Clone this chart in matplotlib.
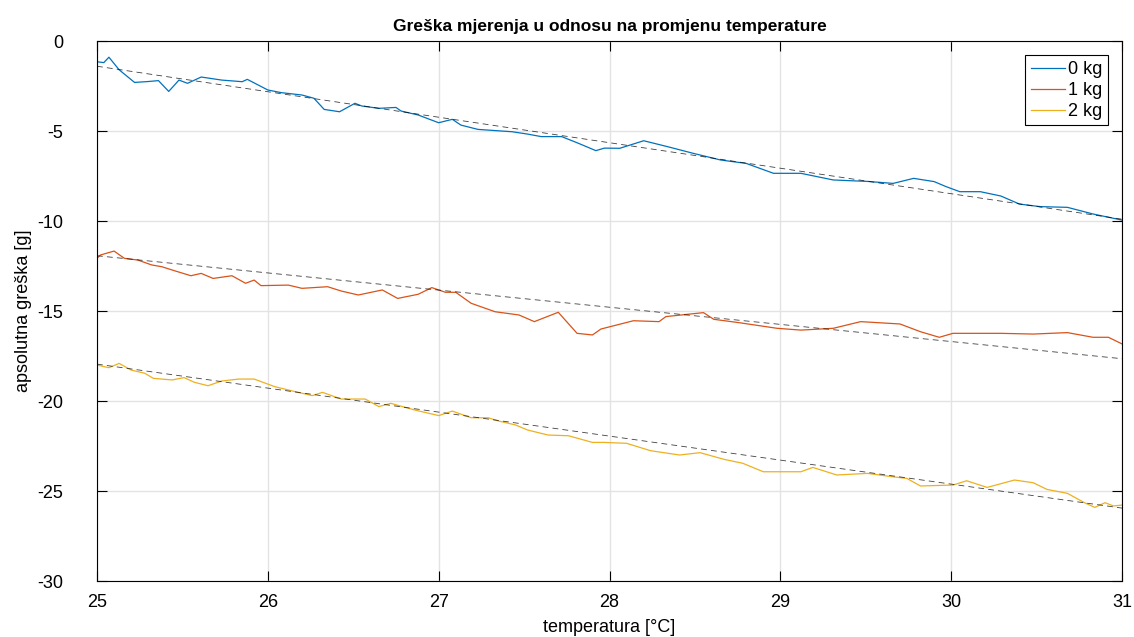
import numpy as np
import matplotlib
matplotlib.use("Agg")
import matplotlib.pyplot as plt

plt.rcParams['font.family'] = ['Liberation Sans', 'DejaVu Sans']
plt.rcParams['axes.unicode_minus'] = False

# ---- data (temperature [°C], error [g]) ----
t0 = [25.0, 25.04, 25.07, 25.1, 25.13, 25.22, 25.3, 25.36, 25.42, 25.48, 25.53,
      25.61, 25.73, 25.85, 25.88, 26.0, 26.08, 26.2, 26.27, 26.33, 26.42, 26.51,
      26.55, 26.65, 26.75, 26.78, 26.88, 27.0, 27.08, 27.13, 27.23, 27.43, 27.52,
      27.6, 27.72, 27.82, 27.92, 27.97, 28.06, 28.2, 28.34, 28.49, 28.65, 28.8,
      28.96, 29.12, 29.31, 29.51, 29.66, 29.78, 29.9, 29.97, 30.05, 30.17, 30.29,
      30.4, 30.52, 30.68, 30.83, 31.0]
e0 = [-1.15, -1.2, -0.9, -1.25, -1.6, -2.3, -2.25, -2.2, -2.8, -2.17, -2.35,
      -2.0, -2.17, -2.26, -2.13, -2.72, -2.87, -3.0, -3.18, -3.8, -3.93, -3.46,
      -3.61, -3.74, -3.69, -3.89, -4.11, -4.54, -4.35, -4.67, -4.91, -5.04, -5.17,
      -5.31, -5.31, -5.69, -6.09, -5.95, -5.96, -5.54, -5.87, -6.24, -6.61, -6.8,
      -7.35, -7.35, -7.72, -7.8, -7.91, -7.63, -7.81, -8.09, -8.37, -8.37, -8.61,
      -9.06, -9.2, -9.24, -9.61, -9.95]

t1 = [25.0, 25.02, 25.1, 25.16, 25.24, 25.32, 25.38, 25.46, 25.55, 25.61, 25.68,
      25.79, 25.87, 25.92, 25.96, 26.12, 26.2, 26.35, 26.43, 26.53, 26.67, 26.76,
      26.88, 26.96, 27.04, 27.1, 27.19, 27.33, 27.47, 27.56, 27.7, 27.81, 27.9,
      27.95, 28.14, 28.29, 28.33, 28.55, 28.61, 28.76, 28.98, 29.12, 29.31, 29.47,
      29.7, 29.82, 29.93, 30.01, 30.29, 30.48, 30.68, 30.83, 30.92, 31.0]
e1 = [-12.07, -11.89, -11.67, -12.07, -12.17, -12.44, -12.54, -12.78, -13.04, -12.91,
      -13.19, -13.04, -13.46, -13.28, -13.59, -13.56, -13.74, -13.65, -13.89, -14.11,
      -13.83, -14.3, -14.07, -13.7, -13.96, -13.96, -14.57, -15.04, -15.22, -15.59,
      -15.07, -16.24, -16.33, -16.0, -15.54, -15.59, -15.31, -15.09, -15.46, -15.65,
      -15.96, -16.06, -15.96, -15.59, -15.72, -16.15, -16.46, -16.24, -16.24, -16.28,
      -16.2, -16.46, -16.46, -16.83]

t2 = [25.0, 25.07, 25.13, 25.2, 25.28, 25.33, 25.44, 25.51, 25.57, 25.65, 25.73,
      25.83, 25.92, 26.04, 26.16, 26.26, 26.32, 26.43, 26.57, 26.65, 26.72, 26.86,
      27.0, 27.08, 27.19, 27.29, 27.35, 27.45, 27.52, 27.64, 27.76, 27.9, 27.97,
      28.1, 28.24, 28.41, 28.53, 28.67, 28.78, 28.9, 28.98, 29.12, 29.19, 29.33,
      29.51, 29.65, 29.74, 29.82, 30.01, 30.09, 30.21, 30.37, 30.48, 30.56, 30.68,
      30.78, 30.84, 30.9, 30.95, 31.0]
e2 = [-18.0, -18.15, -17.91, -18.28, -18.46, -18.74, -18.83, -18.7, -18.96, -19.15,
      -18.89, -18.78, -18.78, -19.2, -19.48, -19.7, -19.52, -19.89, -19.89, -20.31,
      -20.13, -20.5, -20.81, -20.56, -20.93, -20.93, -21.11, -21.33, -21.61, -21.89,
      -21.93, -22.3, -22.3, -22.35, -22.76, -23.0, -22.87, -23.24, -23.46, -23.93,
      -23.93, -23.93, -23.69, -24.11, -24.02, -24.2, -24.3, -24.72, -24.67, -24.43,
      -24.8, -24.39, -24.54, -24.91, -25.13, -25.65, -25.91, -25.65, -25.83, -25.78]

# linear trend end points (dashed lines)
fit_t = [25, 31]
fit0 = [-1.4, -9.9]
fit1 = [-11.93, -17.65]
fit2 = [-17.95, -25.95]

labels = ["0 kg", "1 kg", "2 kg"]
colors = ["#0072BD", "#D95319", "#EDB120"]

# ---- plot ----
fig = plt.figure(figsize=(11.34, 6.37), dpi=100)
ax = fig.add_axes([0.0855, 0.0879, 0.904, 0.8477])

ax.plot(t0, e0, color=colors[0], lw=0.9, label=labels[0])
ax.plot(t1, e1, color=colors[1], lw=0.9, label=labels[1])
ax.plot(t2, e2, color=colors[2], lw=0.9, label=labels[2])
for f in (fit0, fit1, fit2):
    ax.plot(fit_t, f, color="k", lw=0.6, ls=(0, (7, 5)), alpha=0.75)

ax.set_xlim(25, 31)
ax.set_ylim(-30, 0)
ax.set_xticks(range(25, 32))
ax.set_yticks(range(-30, 1, 5))
ax.grid(True, color="#e3e3e3", lw=1)
ax.set_axisbelow(True)
ax.tick_params(direction="in", length=7, width=0.8, top=True, right=True,
               labelsize=13)
ax.tick_params(axis="x", pad=9)
ax.tick_params(axis="y", pad=24)
for s in ax.spines.values():
    s.set_linewidth(0.8)

ax.set_title("Greška mjerenja u odnosu na promjenu temperature",
             fontsize=12.5, fontweight="bold", pad=7)
ax.set_xlabel("temperatura [°C]", fontsize=13, labelpad=6)
ax.set_ylabel("apsolutna greška [g]", fontsize=13, labelpad=4)

leg = ax.legend(loc="upper right", fontsize=13, fancybox=False, edgecolor="k",
                framealpha=1, borderaxespad=0.8, handlelength=1.9,
                borderpad=0.3, labelspacing=0.22, handletextpad=0.15)
leg.get_frame().set_linewidth(0.8)

fig.savefig("out.png", dpi=100)
